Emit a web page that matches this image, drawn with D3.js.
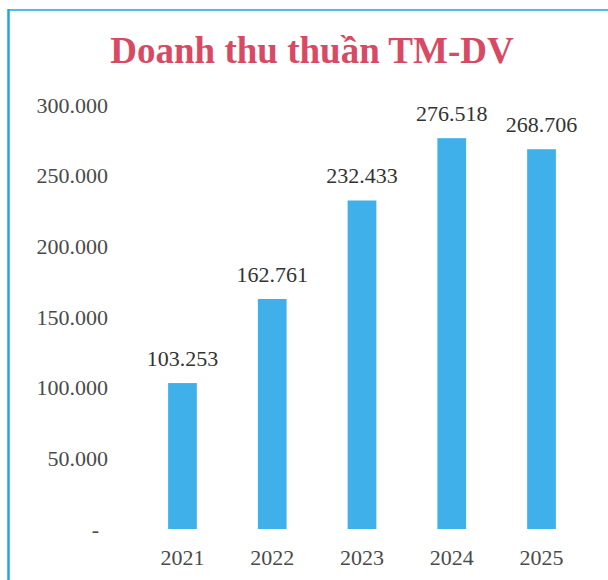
<!DOCTYPE html>
<html>
<head>
<meta charset="utf-8">
<script src="https://cdn.jsdelivr.net/npm/d3@7"></script>
<style>
  html, body { margin: 0; padding: 0; background: #ffffff; }
  svg { display: block; }
</style>
</head>
<body>
<svg id="chart" width="608" height="580"></svg>
<script>
const title = "Doanh thu thuần TM-DV";
const years = ["2021", "2022", "2023", "2024", "2025"];
const revenue = [103253, 162761, 232433, 276518, 268706];
const yTicks = [0, 50000, 100000, 150000, 200000, 250000, 300000];

const W = 608, H = 580;
const svg = d3.select("#chart");
const serif = "'Liberation Serif', 'Times New Roman', 'DejaVu Serif', serif";

// frame lines
svg.append("line").attr("x1", 8).attr("x2", 608).attr("y1", 10).attr("y2", 10)
  .attr("stroke", "#56bbe8").attr("stroke-width", 2);
svg.append("line").attr("x1", 8.5).attr("x2", 8.5).attr("y1", 9).attr("y2", 580)
  .attr("stroke", "#1fa5e3").attr("stroke-width", 2.5);

const fmt = v => v === 0 ? "-" : d3.format(",")(v).replace(/,/g, ".");

const x = d3.scaleBand().domain(years).range([137.6, 586.4])
  .paddingInner(0.68).paddingOuter(0.34);
const y = d3.scaleLinear().domain([0, 300000]).range([529, 105]);

// title
svg.append("text").attr("x", 312).attr("y", 63)
  .attr("text-anchor", "middle")
  .attr("font-family", serif).attr("font-weight", "bold").attr("font-size", 37)
  .attr("fill", "#d84a64").text(title);

// y axis (labels only)
const yAxis = d3.axisLeft(y).tickValues(yTicks).tickFormat(fmt).tickSize(0).tickPadding(0);
const gy = svg.append("g").attr("transform", "translate(108,0)").call(yAxis);
gy.select(".domain").remove();
gy.selectAll("text")
  .attr("font-family", serif).attr("font-size", 22).attr("fill", "#4a4a4a")
  .attr("dy", "0.33em")
  .attr("dx", d => d === 0 ? -9 : 0);

// bars
svg.append("g").selectAll("rect").data(years).join("rect")
  .attr("x", d => x(d))
  .attr("width", x.bandwidth())
  .attr("y", (d, i) => y(revenue[i]))
  .attr("height", (d, i) => y(0) - y(revenue[i]))
  .attr("fill", "#3fb0ea");

// value labels
svg.append("g").selectAll("text").data(years).join("text")
  .attr("x", d => x(d) + x.bandwidth() / 2)
  .attr("y", (d, i) => y(revenue[i]) - 17)
  .attr("text-anchor", "middle")
  .attr("font-family", serif).attr("font-size", 22).attr("fill", "#333333")
  .text((d, i) => fmt(revenue[i]));

// x axis (labels only)
const xAxis = d3.axisBottom(x).tickSize(0).tickPadding(0);
const gx = svg.append("g").attr("transform", "translate(0,565)").call(xAxis);
gx.select(".domain").remove();
gx.selectAll("text")
  .attr("font-family", serif).attr("font-size", 22).attr("fill", "#4a4a4a")
  .attr("dy", 0);
</script>
</body>
</html>
